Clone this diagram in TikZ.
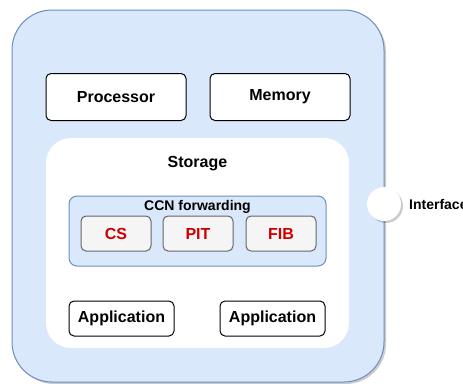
\documentclass[tikz,border=0pt]{standalone}
\usepackage{fontspec}
\setmainfont{Liberation Sans}
\definecolor{nodeblue}{HTML}{DAE8FC}
\definecolor{edgeblue}{HTML}{6C8EBF}
\definecolor{cellgray}{HTML}{F5F5F5}
\definecolor{cellline}{HTML}{666666}
\definecolor{tabred}{HTML}{CC0000}
\usetikzlibrary{positioning,shadows}
\tikzset{
  shade/.style = {drop shadow={shadow xshift=2pt, shadow yshift=-2pt,
                  opacity=0.2, fill=black}},
  box/.style   = {rectangle, draw, rounded corners=5pt, fill=white,
                  line width=1pt, inner sep=0pt,
                  font=\bfseries\fontsize{16}{19}\selectfont},
  cell/.style  = {box, fill=cellgray, draw=cellline, text=tabred,
                  minimum width=70pt, minimum height=35pt},
  app/.style   = {box, minimum width=105pt, minimum height=35pt},
  unit/.style  = {box, minimum width=140pt, minimum height=47pt}
}
\begin{document}
\begin{tikzpicture}[x=1pt,y=-1pt]
  \useasboundingbox (0,0) rectangle (463,383);
  % device
  \node[rectangle, draw=edgeblue, fill=nodeblue, line width=1pt,
        rounded corners=40pt, minimum size=372pt, shade] (device) at (198,196) {};
  \node[circle, draw=none, fill=white, minimum size=34pt, shade] (iface) at (384,204) {};
  \node[anchor=west, inner sep=0pt, font=\bfseries\fontsize{14}{16}\selectfont] (ifacelab)
    at (409,204) {Interface};
  % units
  \node[unit] (proc) at (116,97) {Processor};
  \node[unit, right=23pt of proc] (mem) {Memory};
  % storage
  \node[rectangle, fill=white, rounded corners=25pt,
        minimum width=303pt, minimum height=210pt,
        label={[anchor=north, yshift=-15pt, font=\bfseries\fontsize{16}{19}\selectfont]north:Storage}]
        (store) at (197.5,243) {};
  \node[rectangle, draw=edgeblue, fill=nodeblue, line width=1pt,
        rounded corners=8pt, minimum width=257pt, minimum height=70pt,
        label={[anchor=north, yshift=-1pt, font=\bfseries\fontsize{14}{16}\selectfont]north:CCN forwarding}]
        (ccn) at (197.5,231) {};
  \node[cell] (cs) at (116,233.5) {CS};
  \node[cell, right=11pt of cs] (pit) {PIT};
  \node[cell, right=12pt of pit] (fib) {FIB};
  % applications
  \node[app] (app1) at (121.5,318.5) {Application};
  \node[app] (app2) at (272.5,318.5) {Application};
\end{tikzpicture}
\end{document}
